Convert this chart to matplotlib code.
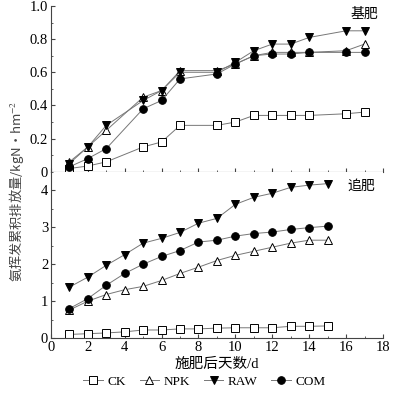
import matplotlib
matplotlib.use("Agg")
import matplotlib.pyplot as plt
from matplotlib.ticker import MultipleLocator

plt.rcParams["font.family"] = ["Liberation Serif", "Noto Sans CJK SC"]
plt.rcParams["mathtext.fontset"] = "stix"

# basal fertilizer (基肥)
days_base = [1, 2, 3, 5, 6, 7, 9, 10, 11, 12, 13, 14, 16, 17]
ck_base = [0.02, 0.035, 0.06, 0.15, 0.18, 0.28, 0.28, 0.30, 0.34, 0.34, 0.34, 0.34, 0.35, 0.36]
npk_base = [0.06, 0.15, 0.25, 0.45, 0.49, 0.61, 0.61, 0.65, 0.70, 0.72, 0.72, 0.72, 0.73, 0.77]
raw_base = [0.05, 0.15, 0.28, 0.43, 0.49, 0.60, 0.60, 0.66, 0.73, 0.77, 0.77, 0.81, 0.85, 0.85]
com_base = [0.03, 0.08, 0.14, 0.38, 0.43, 0.56, 0.59, 0.65, 0.70, 0.71, 0.71, 0.72, 0.72, 0.72]

# topdressing (追肥)
days_top = list(range(1, 16))
ck_top = [0.10, 0.12, 0.14, 0.17, 0.22, 0.22, 0.25, 0.25, 0.27, 0.28, 0.28, 0.28, 0.32, 0.32, 0.33]
npk_top = [0.76, 1.00, 1.18, 1.31, 1.40, 1.56, 1.75, 1.92, 2.10, 2.24, 2.35, 2.46, 2.57, 2.65, 2.65]
raw_top = [1.38, 1.65, 1.97, 2.26, 2.57, 2.70, 2.86, 3.11, 3.24, 3.62, 3.81, 3.92, 4.08, 4.14, 4.18]
com_top = [0.80, 1.07, 1.43, 1.75, 2.00, 2.21, 2.37, 2.60, 2.65, 2.76, 2.83, 2.87, 2.94, 2.99, 3.03]

names = ["CK", "NPK", "RAW", "COM"]
styles = [("s", "white"), ("^", "white"), ("v", "black"), ("o", "black")]

fig = plt.figure(figsize=(4.01, 3.95), dpi=100)
ax1 = fig.add_axes([0.127, 0.565, 0.828, 0.42])
ax2 = fig.add_axes([0.127, 0.144, 0.828, 0.421])

line_kw = dict(color="#777777", lw=0.7, ms=5.5, mec="black", mew=0.7)

for (m, fc), ys in zip(styles, [ck_base, npk_base, raw_base, com_base]):
    ax1.plot(days_base, ys, marker=m, mfc=fc, **line_kw)

handles = []
for (m, fc), ys, name in zip(styles, [ck_top, npk_top, raw_top, com_top], names):
    h, = ax2.plot(days_top, ys, marker=m, mfc=fc, label=name, **line_kw)
    handles.append(h)

for ax in (ax1, ax2):
    ax.set_xlim(0, 18)
    ax.xaxis.set_major_locator(MultipleLocator(2))
    ax.xaxis.set_minor_locator(MultipleLocator(1))
    ax.spines["top"].set_visible(False)
    ax.spines["right"].set_visible(False)
    ax.spines["left"].set_color("#444444")
    ax.spines["bottom"].set_color("#444444")
    ax.tick_params(which="both", direction="in", labelsize=10.5, length=3, pad=2,
                   colors="#444444", labelcolor="black")
    ax.tick_params(which="minor", length=1.5)

ax1.set_ylim(0, 1.0)
ax1.set_yticks([0, 0.2, 0.4, 0.6, 0.8, 1.0])
ax1.set_yticklabels(["0", "0.2", "0.4", "0.6", "0.8", "1.0"])
ax1.yaxis.set_minor_locator(MultipleLocator(0.1))
ax1.tick_params(axis="x", labelbottom=False)
ax1.text(17.0, 0.95, "基肥", fontsize=10, family="Noto Sans CJK SC",
         ha="center", va="center")

ax2.set_ylim(0, 4.5)
ax2.set_yticks([0, 1, 2, 3, 4])
ax2.yaxis.set_minor_locator(MultipleLocator(0.5))
ax2.text(16.8, 4.13, "追肥", fontsize=10, family="Noto Sans CJK SC",
         ha="center", va="center")
ax2.set_xlabel("施肥后天数/d", fontsize=10.5, labelpad=3)

fig.text(0.04, 0.515, "氨挥发累积排放量/kgN·hm$^{-2}$", rotation=90,
         ha="center", va="center", fontsize=9.5, color="#444444",
         family=["Noto Sans CJK SC"])

fig.legend(handles=handles, loc="lower center", bbox_to_anchor=(0.51, -0.012),
           ncol=4, frameon=False, fontsize=9.5, handlelength=1.5,
           columnspacing=1.0, handletextpad=0.35)

fig.savefig("out.png", dpi=100)
